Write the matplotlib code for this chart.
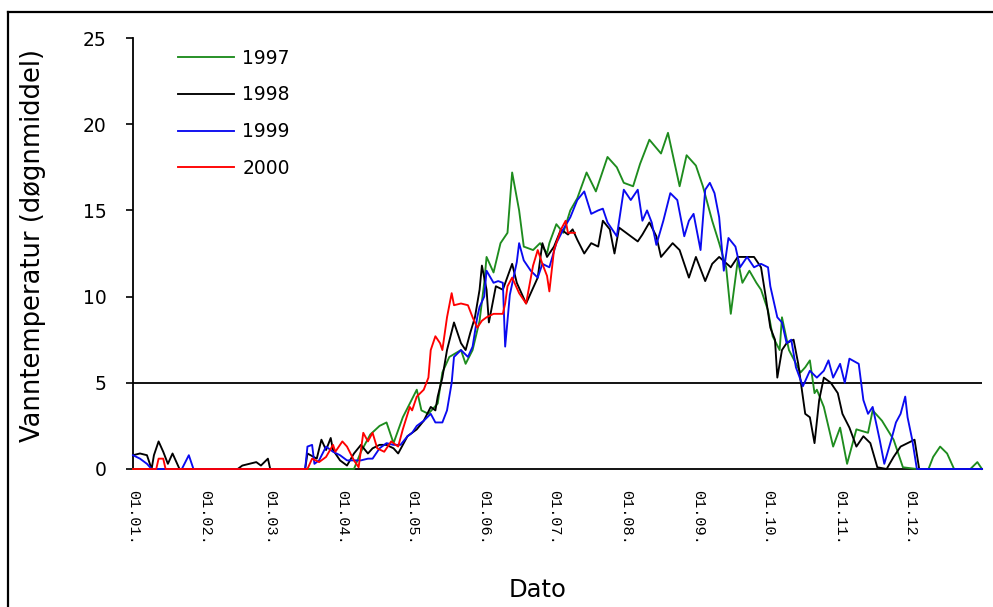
import matplotlib
matplotlib.use("Agg")
import matplotlib.pyplot as plt
from matplotlib.lines import Line2D

# ---- data (day of year, daily mean water temperature) ----
days_1997 = [0, 95, 98, 102, 106, 109, 112, 116, 119, 122, 124, 127, 131, 133, 136, 141, 143, 146, 149, 151,
             152, 155, 158, 161, 163, 166, 168, 172, 175, 178, 179, 182, 185, 188, 191, 195, 199, 204, 208, 211,
             215, 218, 222, 227, 230, 235, 238, 242, 245, 249, 252, 255, 257, 260, 262, 265, 268, 270, 273, 275,
             278, 279, 282, 287, 289, 291, 293, 294, 297, 301, 304, 307, 311, 316, 318, 322, 327, 331, 337, 342,
             344, 347, 350, 353, 360, 363, 365]
temp_1997 = [0, 0, 1.0, 2.0, 2.5, 2.7, 1.5, 3.0, 3.8, 4.6, 3.4, 3.2, 3.8, 5.6, 6.5, 6.9, 6.1, 6.9, 8.6, 10.8,
             12.3, 11.4, 13.1, 13.7, 17.2, 15.0, 12.9, 12.7, 13.1, 12.5, 13.1, 14.2, 13.7, 15.0, 15.7, 17.2, 16.1, 18.1, 17.5, 16.6,
             16.4, 17.7, 19.1, 18.3, 19.5, 16.4, 18.2, 17.6, 16.4, 14.4, 13.1, 11.7, 9.0, 12.1, 10.8, 11.5, 10.8, 10.4, 9.2, 7.7,
             6.9, 8.8, 6.9, 5.6, 5.9, 6.3, 4.4, 4.6, 3.6, 1.3, 2.4, 0.3, 2.3, 2.1, 3.4, 2.8, 1.7, 0.1, 0, 0,
             0.7, 1.3, 0.9, 0, 0, 0.4, 0]

days_1998 = [0, 3, 6, 8, 9, 11, 13, 15, 17, 19, 20, 45, 47, 50, 53, 55, 58, 59, 74, 75,
             79, 81, 83, 85, 86, 89, 92, 95, 98, 101, 103, 106, 109, 112, 114, 118, 122, 125, 128, 130,
             131, 133, 135, 138, 141, 143, 145, 147, 149, 150, 152, 153, 156, 159, 163, 165, 169, 174, 176, 178,
             181, 184, 187, 189, 191, 194, 197, 200, 202, 205, 207, 209, 214, 217, 219, 222, 225, 227, 232, 235,
             239, 242, 246, 249, 252, 257, 260, 263, 267, 270, 272, 274, 276, 277, 279, 281, 284, 286, 289, 291,
             293, 295, 297, 300, 303, 305, 308, 311, 314, 317, 320, 324, 327, 330, 333, 336, 338, 365]
temp_1998 = [0.8, 0.9, 0.8, 0, 0.8, 1.6, 1.0, 0.3, 0.9, 0.3, 0, 0, 0.2, 0.3, 0.4, 0.2, 0.6, 0, 0, 0.9,
             0.6, 1.7, 1.1, 1.8, 1.1, 0.5, 0.2, 0.9, 1.4, 0.9, 1.2, 1.4, 1.4, 1.2, 0.9, 1.9, 2.3, 2.8, 3.6, 3.4,
             4.2, 5.3, 6.9, 8.5, 7.3, 6.9, 7.9, 8.8, 10.4, 11.8, 10.4, 8.5, 10.6, 10.4, 11.9, 10.8, 9.6, 11.1, 13.1, 12.3,
             12.9, 13.9, 13.6, 13.9, 13.3, 12.5, 13.1, 12.9, 14.4, 13.9, 12.5, 14.0, 13.5, 13.2, 13.6, 14.3, 13.5, 12.3, 13.1, 12.7,
             11.1, 12.3, 10.9, 11.9, 12.3, 11.7, 12.3, 12.3, 12.3, 11.7, 10.0, 8.2, 7.5, 5.3, 6.9, 7.3, 7.5, 6.1, 3.2, 3.0,
             1.5, 4.0, 5.3, 5.0, 4.4, 3.2, 2.4, 1.3, 1.9, 1.5, 0.1, 0, 0.7, 1.3, 1.5, 1.7, 0, 0]

days_1999 = [0, 3, 6, 8, 21, 24, 26, 74, 75, 77, 78, 80, 83, 86, 89, 92, 95, 98, 101, 103,
             106, 109, 112, 115, 118, 120, 122, 125, 128, 130, 133, 135, 137, 138, 141, 144, 146, 148, 149, 151,
             152, 155, 157, 159, 160, 162, 165, 166, 168, 171, 174, 176, 179, 182, 185, 188, 191, 194, 197, 200,
             202, 204, 206, 208, 211, 214, 217, 219, 221, 223, 225, 228, 231, 234, 237, 239, 241, 244, 246, 248,
             250, 252, 254, 256, 259, 261, 264, 267, 270, 273, 274, 276, 277, 279, 281, 283, 285, 288, 291, 294,
             297, 299, 301, 304, 306, 308, 312, 314, 316, 318, 321, 323, 326, 328, 330, 332, 333, 335, 337, 365]
temp_1999 = [0.8, 0.6, 0.3, 0, 0, 0.8, 0, 0, 1.3, 1.4, 0.3, 0.5, 1.3, 1.0, 0.8, 0.5, 0.5, 0.5, 0.6, 0.6,
             1.2, 1.5, 1.4, 1.4, 1.9, 2.1, 2.5, 2.8, 3.2, 2.7, 2.7, 3.4, 5.0, 6.5, 6.9, 6.5, 7.1, 8.8, 9.4, 10.0,
             11.5, 10.8, 10.9, 10.8, 7.1, 10.1, 12.0, 13.1, 12.1, 11.5, 11.1, 11.9, 11.7, 13.1, 13.9, 14.6, 15.6, 16.1, 14.8, 15.0,
             15.1, 14.3, 13.9, 13.5, 16.2, 15.6, 16.2, 14.4, 15.0, 14.3, 13.0, 14.4, 16.0, 15.6, 13.5, 14.4, 14.8, 12.7, 16.2, 16.6,
             16.0, 14.6, 11.5, 13.4, 12.9, 11.7, 12.3, 11.7, 11.9, 11.7, 10.6, 9.4, 8.8, 8.5, 7.3, 7.5, 5.9, 4.8, 5.7, 5.3,
             5.7, 6.3, 5.3, 6.1, 5.0, 6.4, 6.1, 4.0, 3.2, 3.6, 1.7, 0.3, 1.7, 2.7, 3.2, 4.2, 3.0, 1.7, 0, 0]

days_2000 = [0, 10, 11, 13, 14, 75, 77, 80, 83, 86, 87, 90, 92, 95, 97, 99, 101, 103, 105, 108,
             111, 114, 116, 119, 120, 122, 125, 127, 128, 130, 132, 133, 135, 137, 138, 141, 144, 146, 148, 150,
             152, 155, 159, 160, 161, 163, 166, 169, 172, 174, 176, 178, 179, 181, 184, 186, 187, 190]
temp_2000 = [0, 0, 0.6, 0.6, 0, 0, 0.6, 0.4, 0.7, 1.4, 1.0, 1.6, 1.3, 0.5, 0.1, 2.1, 1.6, 2.1, 1.2, 1.0,
             1.6, 1.3, 2.3, 3.6, 3.4, 4.2, 4.6, 5.3, 6.9, 7.7, 7.3, 6.9, 8.8, 10.2, 9.5, 9.6, 9.5, 8.8, 8.2, 8.6,
             8.8, 9.0, 9.0, 9.6, 10.6, 11.1, 10.2, 9.6, 11.8, 12.7, 11.9, 11.2, 10.3, 12.7, 13.9, 14.4, 13.7, 13.7]

series_labels = ["1997", "1998", "1999", "2000"]
series_colors = ["#1e8c1e", "#000000", "#0a0af0", "#ff0000"]

tick_days = [0, 31, 59, 90, 120, 151, 181, 212, 243, 273, 304, 334]
tick_labels = ["01.01.", "01.02.", "01.03.", "01.04.", "01.05.", "01.06.",
               "01.07.", "01.08.", "01.09.", "01.10.", "01.11.", "01.12."]
threshold = 5

# ---- figure ----
fig = plt.figure(figsize=(9.93, 6.07), dpi=100)
W, H = 993, 607
ax = fig.add_axes([133 / W, (H - 469) / H, (982 - 133) / W, (469 - 38) / H])

all_days = [days_1997, days_1998, days_1999, days_2000]
all_temp = [temp_1997, temp_1998, temp_1999, temp_2000]
for d, t, lab, col in zip(all_days, all_temp, series_labels, series_colors):
    ax.plot(d, t, color=col, lw=1.35, label=lab, zorder=3, clip_on=False)

ax.axhline(threshold, color="black", lw=1.3, zorder=0.5)

ax.set_xlim(0, 365)
ax.set_ylim(0, 25)
ax.set_yticks([0, 5, 10, 15, 20, 25])
ax.set_xticks(tick_days)
ax.set_xticklabels(tick_labels, rotation=-90, family="Liberation Mono", fontsize=11)
ax.tick_params(axis="x", length=0, pad=15)
ax.tick_params(axis="y", direction="out", length=5, width=1.2, pad=14, labelsize=13.5)
for s in ["top", "right"]:
    ax.spines[s].set_visible(False)
for s in ["left", "bottom"]:
    ax.spines[s].set_linewidth(1.3)

ax.set_ylabel("Vanntemperatur (døgnmiddel)", fontsize=18.5)
ax.yaxis.set_label_coords((46 - 133) / (982 - 133), (469 - 245) / (469 - 38))

fig.text(538 / W, 1 - 590 / H, "Dato", ha="center", va="center", fontsize=17.5)

leg = ax.legend(loc="upper left", bbox_to_anchor=((170 - 133) / 849, (469 - 41) / 431),
                frameon=False, fontsize=13.5, handlelength=3.0, handletextpad=0.45,
                labelspacing=0.95, borderaxespad=0)

# outer frame (top and left edges)
fig.add_artist(Line2D([8 / W, 8 / W], [0, 1 - 12 / H], color="black", lw=1.6))
fig.add_artist(Line2D([8 / W, 1], [1 - 12 / H, 1 - 12 / H], color="black", lw=1.6))

fig.savefig("out.png", dpi=100)
